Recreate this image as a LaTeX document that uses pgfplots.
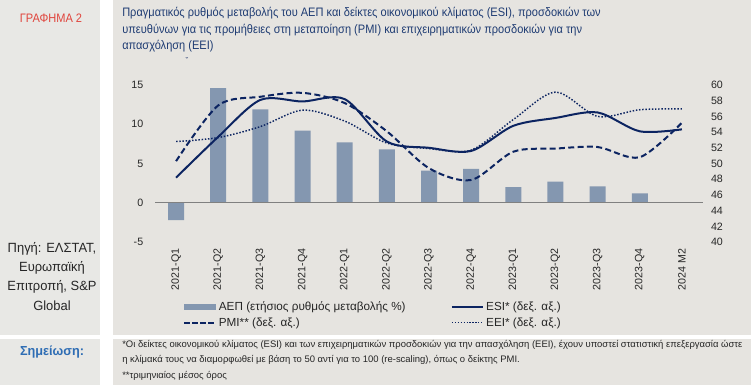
\documentclass[border=0pt]{standalone}
\usepackage{pgfplots}
\pgfplotsset{compat=1.18}
\usepackage{fontspec}
\setmainfont{Liberation Sans}
\newfontfamily\narrowfont{Liberation Sans}[FakeStretch=0.9]
\newfontfamily\srcfont{Liberation Sans}[FakeStretch=0.97]
\definecolor{bgR}{HTML}{E6E4E0}
\definecolor{bgL}{HTML}{E8E8E5}
\definecolor{barc}{HTML}{8497B0}
\definecolor{navy}{HTML}{0C2461}
\definecolor{titlec}{HTML}{1F3C73}
\definecolor{redc}{HTML}{E0443C}
\definecolor{notec}{HTML}{2E6DB4}
\begin{document}
\begin{tikzpicture}
\useasboundingbox (0,0) rectangle (563.25pt,288.75pt);
\begin{scope}[x=0.75pt,y=-0.75pt,yshift=288.75pt]
\fill[white] (0,0) rectangle (751,385);
\fill[bgL] (0,0) rectangle (100,335);
\fill[bgR] (113,0) rectangle (751,335);
\fill[bgL] (0,339) rectangle (100,385);
\fill[bgR] (113,339) rectangle (751,385);
% title
\begin{scope}[every node/.style={anchor=base west, inner sep=0pt, text=titlec, font=\narrowfont\fontsize{9.2}{10}\selectfont}]
\node at (122,17) {Πραγματικός ρυθμός μεταβολής του ΑΕΠ και δείκτες οικονομικού κλίματος (ESI), προσδοκιών των};
\node at (122,33.5) {υπευθύνων για τις προμήθειες στη μεταποίηση (PMI) και επιχειρηματικών προσδοκιών για την};
\node at (122,50) {απασχόληση (EEI)};
\end{scope}
\node[inner sep=0pt, text=redc, font=\narrowfont\fontsize{9.2}{10}\selectfont] at (51,18) {ΓΡΑΦΗΜΑ 2};
\node[inner sep=0pt, text=navy, font=\fontsize{6}{6}\selectfont] at (187,61) {ˇ};
% source
\begin{scope}[every node/.style={inner sep=0pt, text=black!85, font=\srcfont\fontsize{10}{11}\selectfont}]
\node at (52,249) {Πηγή: ΕΛΣΤΑΤ,};
\node at (52,268) {Ευρωπαϊκή};
\node at (52,287) {Επιτροπή, S\&P};
\node at (52,306) {Global};
\end{scope}
\node[inner sep=0pt, text=notec, font=\srcfont\bfseries\fontsize{9.8}{11}\selectfont] at (52,352) {Σημείωση:};
\begin{scope}[every node/.style={anchor=base west, inner sep=0pt, text=black!85, font=\fontsize{7.1}{8}\selectfont}]
\node at (122,347.5) {*Οι δείκτες οικονομικού κλίματος (ESI) και των επιχειρηματικών προσδοκιών για την απασχόληση (EEI), έχουν υποστεί στατιστική επεξεργασία ώστε};
\node at (122,363) {η κλίμακά τους να διαμορφωθεί με βάση το 50 αντί για το 100 (re-scaling), όπως ο δείκτης PMI.};
\node at (122,378.5) {**τριμηνιαίος μέσος όρος};
\end{scope}
\end{scope}

\begin{axis}[
  at={(116.25pt,107.25pt)}, anchor=south west, scale only axis,
  width=411pt, height=117.75pt,
  xmin=-0.5, xmax=12.5, ymin=-5, ymax=15,
  ytick={-5,0,5,10,15},
  xtick={0,...,12},
  xticklabels={2021-Q1,2021-Q2,2021-Q3,2021-Q4,2022-Q1,2022-Q2,2022-Q3,2022-Q4,2023-Q1,2023-Q2,2023-Q3,2023-Q4,2024 M2},
  axis line style={draw=none}, major tick length=0pt,
  ticklabel style={font=\fontsize{8}{9}\selectfont, text=black!85},
  /pgf/number format/assume math mode=true,
  yticklabel shift=5.3pt,
  xticklabel style={rotate=90, anchor=east},
  xticklabel shift=1.5pt,
  legend columns=2,
  legend cell align=left,
  legend style={draw=none, fill=none, at={(0.051,-0.36)}, anchor=north west,
    inner sep=0pt, font=\fontsize{8.8}{9}\selectfont, text=black!85,
    row sep=0pt},
]
\addplot[ybar, bar width=12pt, fill=barc, draw=none,
  legend image code/.code={\fill[barc] (0pt,-2.2pt) rectangle (24pt,2.2pt);}]
  coordinates {(0,-2.2) (1,14.6) (2,11.9) (3,9.2) (4,7.7) (5,6.8) (6,4.1) (7,4.3) (8,2.0) (9,2.7) (10,2.1) (11,1.2)};
\addlegendentry{\makebox[172pt][l]{ΑΕΠ (ετήσιος ρυθμός μεταβολής \%)}}
\addlegendimage{legend image code/.code={\draw[navy, line width=1.5pt] (0pt,0pt) -- (23pt,0pt);}}
\addlegendentry{ESI* (δεξ. αξ.)}
\addlegendimage{legend image code/.code={\draw[navy, line width=1.5pt, dash pattern=on 4pt off 2pt] (0pt,0pt) -- (23pt,0pt);}}
\addlegendentry{\makebox[172pt][l]{PMI** (δεξ. αξ.)}}
\addlegendimage{legend image code/.code={\draw[navy, line width=0.9pt, dash pattern=on 0.9pt off 1.3pt] (0pt,0pt) -- (23pt,0pt);}}
\addlegendentry{EEI* (δεξ. αξ.)}
\draw[gray, line width=0.7pt] (axis cs:-0.5,0) -- (axis cs:12.5,0);
\end{axis}

\begin{axis}[
  at={(116.25pt,107.25pt)}, anchor=south west, scale only axis,
  width=411pt, height=117.75pt,
  xmin=-0.5, xmax=12.5, ymin=40, ymax=60,
  ytick={40,42,...,60},
  axis y line*=right, axis x line=none,
  axis line style={draw=none}, major tick length=0pt,
  ticklabel style={font=\fontsize{8}{9}\selectfont, text=black!85},
  /pgf/number format/assume math mode=true,
  yticklabel shift=2.5pt,
]
\addplot[navy, line width=1.5pt, smooth] coordinates {
 (0,48.2) (1,53.4) (2,58.1) (3,57.9) (4,58.2) (5,52.8) (6,52.0) (7,51.6) (8,54.8) (9,55.8) (10,56.5) (11,54.1) (12,54.35)};
\addplot[navy, line width=1.5pt, smooth, dash pattern=on 4.5pt off 2.5pt] coordinates {
 (0,50.3) (1,57.4) (2,58.5) (3,59.0) (4,57.7) (5,54.1) (6,49.4) (7,47.9) (8,51.5) (9,51.9) (10,52.1) (11,50.8) (12,55.2)};
\addplot[navy, line width=1.1pt, smooth, dash pattern=on 1.1pt off 1.3pt] coordinates {
 (0,52.8) (1,53.3) (2,54.7) (3,56.8) (4,55.4) (5,52.6) (6,51.9) (7,51.7) (8,55.6) (9,59.1) (10,56.0) (11,56.85) (12,56.95)};
\end{axis}
\end{tikzpicture}
\end{document}
